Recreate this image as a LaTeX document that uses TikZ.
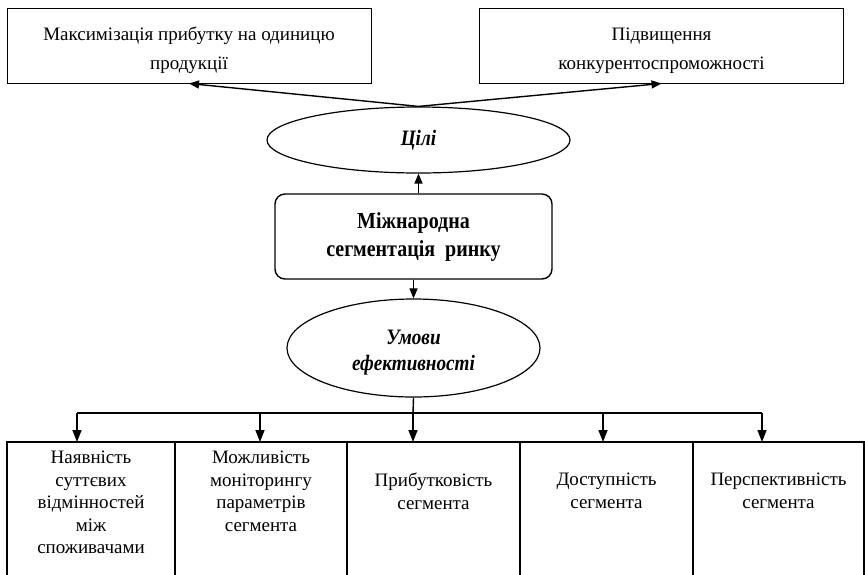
\documentclass[tikz,border=0pt]{standalone}
\usepackage{fontspec}
\setmainfont{Liberation Serif}
\newfontfamily\narrowserif[FakeStretch=0.87]{Liberation Serif}
\usetikzlibrary{arrows.meta,positioning,shapes.geometric,calc}

\begin{document}
\begin{tikzpicture}[
    x=1pt,y=-1pt,
    font=\fontsize{19}{22.5}\selectfont,
    goalbox/.style={draw,line width=1pt,minimum width=364pt,minimum height=75pt,
        inner sep=0pt},
    goaltext/.style={align=center,inner sep=0pt,font=\fontsize{19}{29}\selectfont},
    oval/.style={ellipse,draw,line width=1.2pt,inner sep=0pt,align=center,
        font=\narrowserif\bfseries\itshape\fontsize{22}{26}\selectfont},
    ovaltext/.style={align=center,inner sep=0pt,
        font=\narrowserif\bfseries\itshape\fontsize{22}{26}\selectfont},
    centrebox/.style={draw,line width=1.4pt,rounded corners=10pt,inner sep=0pt,
        minimum width=277pt,minimum height=85pt,align=center,
        font=\narrowserif\bfseries\fontsize{23}{28}\selectfont},
    celltext/.style={align=center,inner sep=0pt,anchor=north},
    cellline/.style={line width=1.6pt},
    link/.style={line width=1.4pt},
    arr/.style={link,-{Triangle[length=10pt,width=8pt]}},
    downarr/.style={link,-{Triangle[length=12pt,width=9pt]}},
  ]
  \useasboundingbox (0,0) rectangle (865,574);

  % ============================================================= GOALS
  \node[goalbox] (maxprofit) at (189,45.5) {};
  \node[goaltext] (maxprofittxt) at ([yshift=-5pt]maxprofit.center)
    {Максимізація прибутку на одиницю\\продукції};
  \node[goalbox] (competit) at (661.5,45.5) {};
  \node[goaltext] (competittxt) at ([yshift=-5pt]competit.center)
    {Підвищення\\конкурентоспроможності};

  \node[oval,minimum width=303pt,minimum height=66pt] (goals) at (418.5,140) {Цілі};

  % ============================================================= CENTRE
  \node[centrebox] (segm) at (413.5,236.5) {Міжнародна\\сегментація~ ринку};

  \node[oval,minimum width=253pt,minimum height=98pt] (cond) at (413.5,348) {};
  \node[ovaltext] (condtxt) at ([yshift=-5pt]cond.center) {Умови\\ефективності};

  \draw[arr] (goals.north) -- (maxprofit.south);
  \draw[arr] (goals.north) -- (competit.south);
  \draw[arr] (goals.south |- segm.north) -- (goals.south);
  \draw[arr] (segm.south) -- (cond.north);

  % ============================================================= CONDITIONS
  \def\ty{442}         % top of the table
  \def\by{413}         % distribution line
  \foreach \i/\xl/\xr/\ax/\dy/\txt in {
      1/7/175/77/0/{Наявність\\суттєвих\\відмінностей\\між\\споживачами},
      2/175/347/260/0/{Можливість\\моніторингу\\параметрів\\сегмента},
      3/347/520/413/22/{Прибутковість\\сегмента},
      4/520/693/603/22/{Доступність\\сегмента},
      5/693/864/762/22/{Перспективність\\сегмента}}{
    \coordinate (cl\i) at (\xl,\ty);
    \coordinate (cr\i) at (\xr,\ty);
    \draw[cellline] (\xl,576) -- (cl\i) -- (cr\i) -- (\xr,576);
    \node[celltext] (cell\i) at ({(\xl+\xr)/2},{\ty+9+\dy}) {\txt};
    \coordinate (bus\i) at (\ax,\by);
    \draw[downarr] (bus\i) -- (bus\i |- cl\i);
  }
  \draw[link] (bus1) -- (bus5);
  \draw[link] (cond.south) -- (bus3);

\end{tikzpicture}
\end{document}
